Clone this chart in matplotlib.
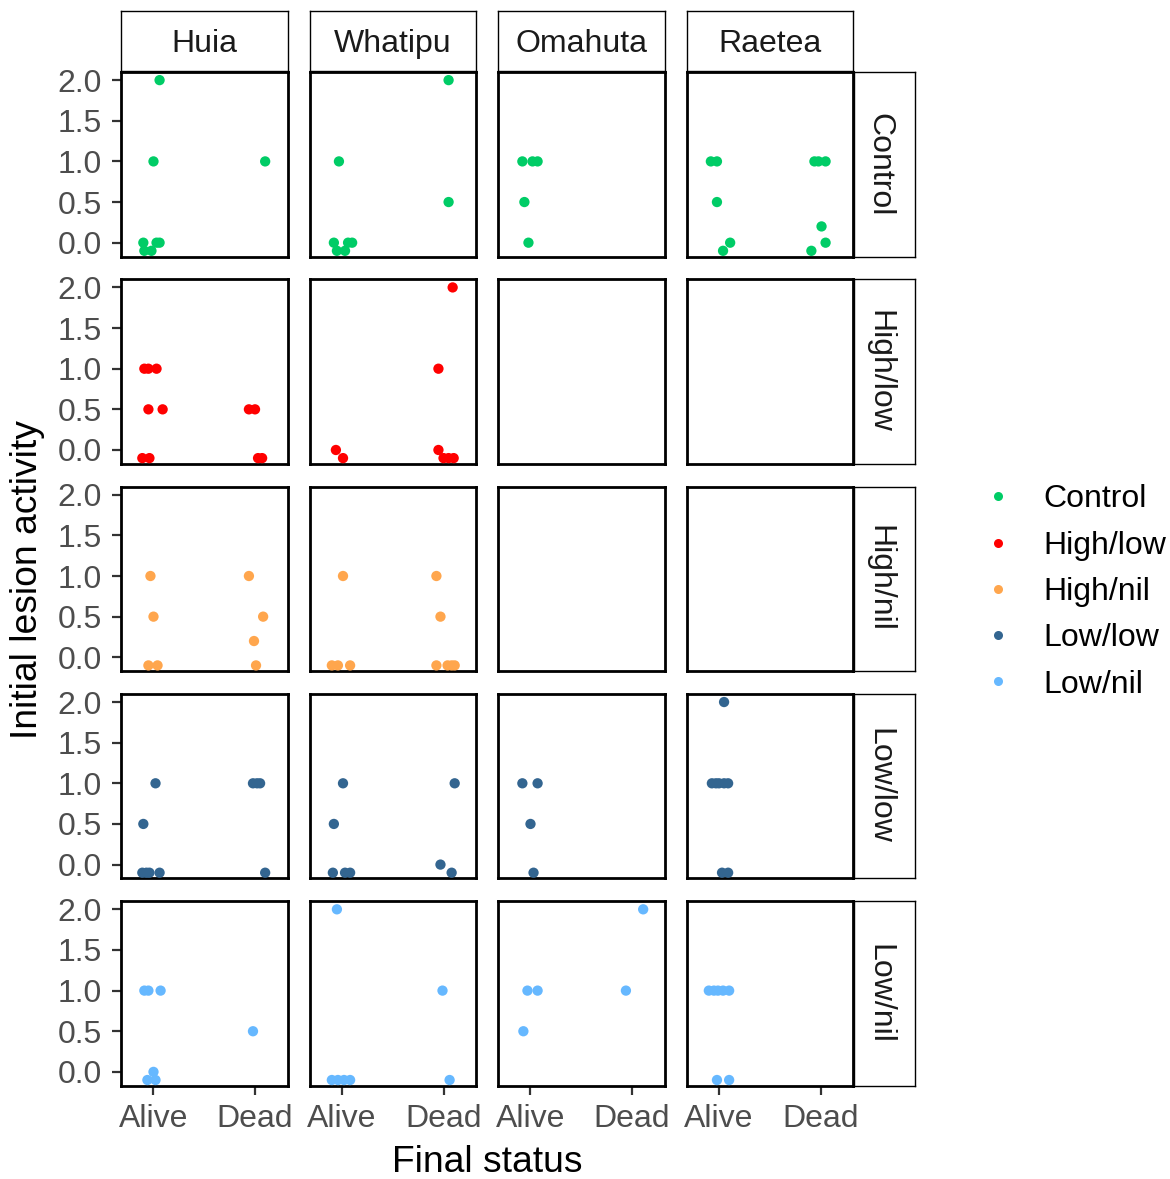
import matplotlib
matplotlib.use("Agg")
import matplotlib.pyplot as plt
from matplotlib.lines import Line2D

plt.rcParams['font.family'] = ['Liberation Sans', 'DejaVu Sans']

sites = ["Huia", "Whatipu", "Omahuta", "Raetea"]
treatments = ["Control", "High/low", "High/nil", "Low/low", "Low/nil"]
status_levels = ["Alive", "Dead"]
colors = {"Control": "#00CC66", "High/low": "#FF0000", "High/nil": "#FFA64D",
          "Low/low": "#336590", "Low/nil": "#66B8FF"}
y_ticks = [0.0, 0.5, 1.0, 1.5, 2.0]

# jittered status position (1 = Alive, 2 = Dead) and initial lesion activity
control_site = ["Huia"] * 8 + ["Whatipu"] * 8 + ["Omahuta"] * 5 + ["Raetea"] * 11
control_x = [1.06, 1.00, 2.10, 0.90, 1.03, 1.06, 0.91, 0.98,
             2.05, 0.97, 2.05, 0.92, 1.06, 1.10, 0.95, 1.03,
             0.92, 1.02, 1.07, 0.94, 0.98,
             0.92, 0.98, 0.98, 1.11, 1.04, 1.94, 1.98, 2.05, 2.01, 2.05, 1.91]
control_y = [2.0, 1.0, 1.0, 0.0, 0.0, 0.0, -0.1, -0.1,
             2.0, 1.0, 0.5, 0.0, 0.0, 0.0, -0.1, -0.1,
             1.0, 1.0, 1.0, 0.5, 0.0,
             1.0, 1.0, 0.5, 0.0, -0.1, 1.0, 1.0, 1.0, 0.2, 0.0, -0.1]

highlow_site = ["Huia"] * 11 + ["Whatipu"] * 8
highlow_x = [0.91, 0.95, 1.03, 0.95, 1.09, 0.89, 0.96, 1.94, 2.00, 2.03, 2.07,
             2.09, 1.95, 1.95, 2.00, 2.05, 2.10, 0.94, 1.01]
highlow_y = [1.0, 1.0, 1.0, 0.5, 0.5, -0.1, -0.1, 0.5, 0.5, -0.1, -0.1,
             2.0, 1.0, 0.0, -0.1, -0.1, -0.1, 0.0, -0.1]

highnil_site = ["Huia"] * 8 + ["Whatipu"] * 10
highnil_x = [0.97, 1.00, 0.95, 1.04, 1.94, 2.08, 1.99, 2.01,
             1.01, 0.90, 0.96, 1.08, 1.93, 1.97, 1.93, 2.04, 2.08, 2.11]
highnil_y = [1.0, 0.5, -0.1, -0.1, 1.0, 0.5, 0.2, -0.1,
             1.0, -0.1, -0.1, -0.1, 1.0, 0.5, -0.1, -0.1, -0.1, -0.1]

lowlow_site = ["Huia"] * 10 + ["Whatipu"] * 8 + ["Omahuta"] * 4 + ["Raetea"] * 8
lowlow_x = [1.02, 0.90, 0.89, 0.93, 0.96, 1.06, 1.98, 2.02, 2.05, 2.10,
            1.01, 0.92, 0.91, 1.03, 1.08, 2.11, 1.97, 2.08,
            0.92, 1.07, 1.00, 1.03,
            1.05, 0.93, 0.97, 1.00, 1.05, 1.09, 1.03, 1.09]
lowlow_y = [1.0, 0.5, -0.1, -0.1, -0.1, -0.1, 1.0, 1.0, 1.0, -0.1,
            1.0, 0.5, -0.1, -0.1, -0.1, 1.0, 0.0, -0.1,
            1.0, 1.0, 0.5, -0.1,
            2.0, 1.0, 1.0, 1.0, 1.0, 1.0, -0.1, -0.1]

lownil_site = ["Huia"] * 7 + ["Whatipu"] * 7 + ["Omahuta"] * 5 + ["Raetea"] * 7
lownil_x = [0.91, 0.95, 1.07, 1.00, 0.94, 1.02, 1.98,
            0.95, 0.90, 0.96, 1.02, 1.08, 1.99, 2.06,
            2.11, 0.97, 1.07, 1.94, 0.93,
            0.90, 0.95, 0.99, 1.04, 1.10, 0.98, 1.10]
lownil_y = [1.0, 1.0, 1.0, 0.0, -0.1, -0.1, 0.5,
            2.0, -0.1, -0.1, -0.1, -0.1, 1.0, -0.1,
            2.0, 1.0, 1.0, 1.0, 0.5,
            1.0, 1.0, 1.0, 1.0, 1.0, -0.1, -0.1]

series = {
    "Control": (control_site, control_x, control_y),
    "High/low": (highlow_site, highlow_x, highlow_y),
    "High/nil": (highnil_site, highnil_x, highnil_y),
    "Low/low": (lowlow_site, lowlow_x, lowlow_y),
    "Low/nil": (lownil_site, lownil_x, lownil_y),
}

W, H = 1170, 1179
fig = plt.figure(figsize=(W / 100, H / 100), dpi=100)

col_left = [121, 309.5, 498, 686.5]
col_w = 166.5
row_top = [72, 279.3, 486.6, 693.9, 901.2]
row_h = 184.5
strip_top, strip_h = 10.7, 60.5
rstrip_left, rstrip_w = 853.5, 61

def fx(px):
    return px / W

def fy(py):
    return 1 - py / H

tick_color = "#333333"
label_color = "#4D4D4D"
small = 23
big = 26.8

for r, tr in enumerate(treatments):
    s_list, x_list, y_list = series[tr]
    for c, site in enumerate(sites):
        ax = fig.add_axes([fx(col_left[c]), fy(row_top[r] + row_h), col_w / W, row_h / H])
        xs = [x for s, x in zip(s_list, x_list) if s == site]
        ys = [y for s, y in zip(s_list, y_list) if s == site]
        if xs:
            ax.scatter(xs, ys, s=55, color=colors[tr], edgecolors="none", zorder=3, clip_on=False)
        ax.set_xlim(0.68, 2.32)
        ax.set_ylim(-0.17, 2.1)
        ax.set_xticks([1, 2])
        ax.set_yticks(y_ticks)
        for sp in ax.spines.values():
            sp.set_linewidth(2.0)
            sp.set_color("black")
        ax.tick_params(axis="both", length=6.5, width=1.6, color=tick_color,
                       labelcolor=label_color, labelsize=small, pad=7.5)
        if c == 0:
            ax.set_yticklabels([f"{t:.1f}" for t in y_ticks])
        else:
            ax.tick_params(axis="y", length=0, labelleft=False)
        if r == len(treatments) - 1:
            ax.set_xticklabels(status_levels)
            ax.tick_params(axis="x", pad=7)
        else:
            ax.tick_params(axis="x", length=0, labelbottom=False)

# top strips
for c, site in enumerate(sites):
    sax = fig.add_axes([fx(col_left[c]), fy(strip_top + strip_h), col_w / W, strip_h / H])
    sax.set_xticks([]); sax.set_yticks([])
    for sp in sax.spines.values():
        sp.set_linewidth(1.0)
    sax.text(0.5, 0.5, site, ha="center", va="center_baseline", fontsize=small, color="#1A1A1A",
             transform=sax.transAxes)

# right strips
for r, tr in enumerate(treatments):
    sax = fig.add_axes([fx(rstrip_left), fy(row_top[r] + row_h), rstrip_w / W, row_h / H])
    sax.set_xticks([]); sax.set_yticks([])
    for sp in sax.spines.values():
        sp.set_linewidth(1.0)
    sax.text(0.43, 0.5, tr, ha="center", va="center", rotation=-90, fontsize=small,
             color="#1A1A1A", transform=sax.transAxes)

# axis titles
fig.text(fx(487), fy(1162), "Final status", ha="center", va="center", fontsize=big, color="black")
fig.text(fx(28), fy(580), "Initial lesion activity", ha="center", va="center",
         rotation=90, fontsize=big, color="black")

# legend
handles = [Line2D([0], [0], marker="o", linestyle="none", markersize=6.5, markerfacecolor=colors[t],
                  markeredgecolor="none") for t in treatments]
fig.legend(handles, treatments, loc="center left", bbox_to_anchor=(fx(966), fy(592)),
           frameon=False, fontsize=small, handletextpad=0.82, labelspacing=0.51,
           handlelength=1.2, borderaxespad=0)

fig.savefig("out.png", dpi=100)
